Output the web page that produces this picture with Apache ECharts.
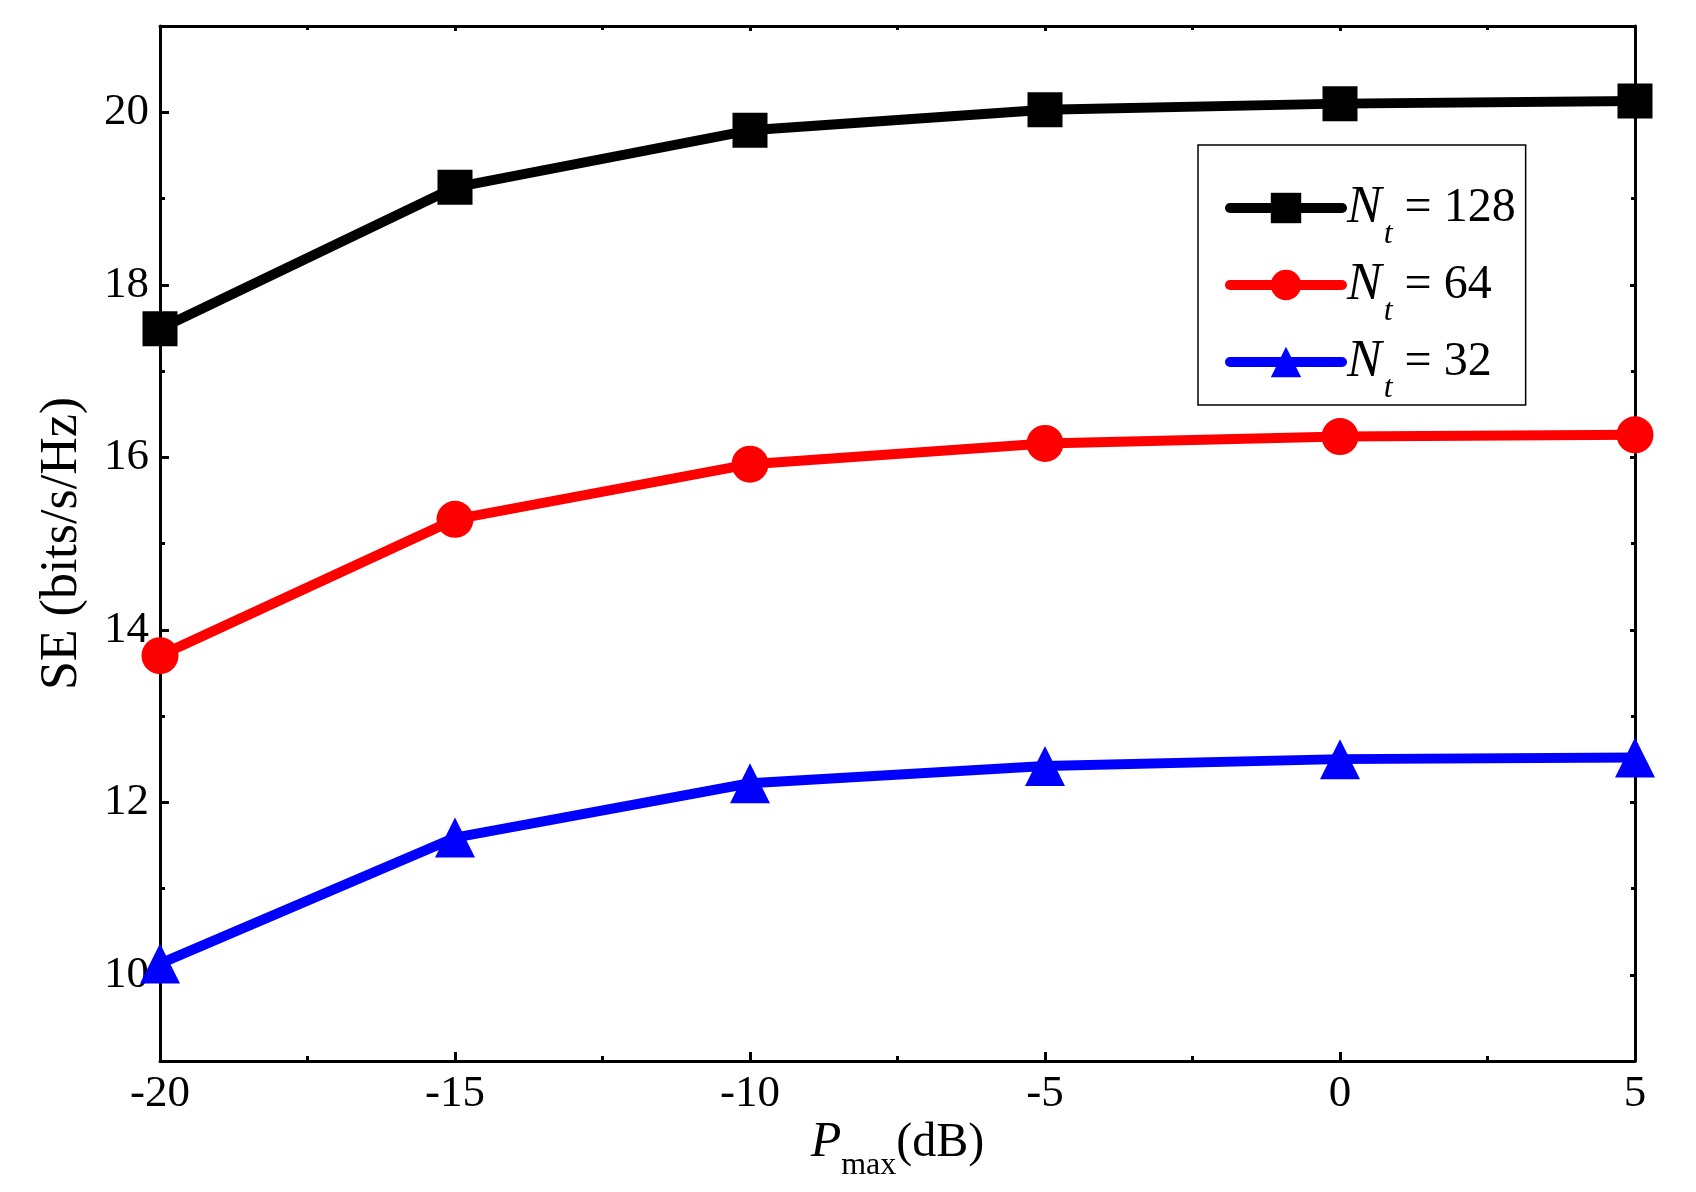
<!DOCTYPE html>
<html>
<head>
<meta charset="utf-8">
<script src="https://cdn.jsdelivr.net/npm/echarts@6/dist/echarts.min.js"></script>
<style>html,body{margin:0;padding:0;background:#fff}#c{width:1696px;height:1192px}</style>
</head>
<body>
<div id="c"></div>
<script>
const xValues = [-20, -15, -10, -5, 0, 5];
const se128 = [17.49, 19.13, 19.79, 20.03, 20.10, 20.13];
const se64 = [13.70, 15.28, 15.92, 16.16, 16.24, 16.26];
const se32 = [10.13, 11.59, 12.22, 12.42, 12.50, 12.52];
const seriesNt = ['128', '64', '32'];
const yMajorTicks = [10, 12, 14, 16, 18, 20];
const yMinorTicks = [9, 11, 13, 15, 17, 19, 21];
const xMajorTicks = [-20, -15, -10, -5, 0, 5];
const xMinorTicks = [-17.5, -12.5, -7.5, -2.5, 2.5];

const FONT = '"Liberation Serif", "DejaVu Serif", serif';
const colors = ['#000000', '#ff0000', '#0000ff'];
const symbols = ['rect', 'circle', 'triangle'];
const symSizes = [35, 37, 40];
const dataSets = [se128, se64, se32];

function pairs(arr) { return xValues.map((x, i) => [x, arr[i]]); }

function lineCfg(show) {
  return show ? { show: true, onZero: false, lineStyle: { color: '#000', width: 3 } } : { show: false, onZero: false };
}

function xAx(pos, ticks, len, showLine, showLabel) {
  return {
    type: 'value', position: pos, min: -20, max: 5, interval: 5,
    axisLine: lineCfg(showLine),
    axisTick: { show: true, inside: true, length: len, customValues: ticks, lineStyle: { color: '#000', width: 3 } },
    axisLabel: showLabel ? { show: true, customValues: xMajorTicks, margin: 11, fontFamily: FONT, fontSize: 45, color: '#000' } : { show: false },
    splitLine: { show: false }
  };
}
function yAx(pos, ticks, len, showLine, showLabel) {
  return {
    type: 'value', position: pos, min: 9, max: 21, interval: 1,
    axisLine: lineCfg(showLine),
    axisTick: { show: true, inside: true, length: len, customValues: ticks, lineStyle: { color: '#000', width: 3 } },
    axisLabel: showLabel ? { show: true, customValues: yMajorTicks, margin: 11, fontFamily: FONT, fontSize: 45, color: '#000' } : { show: false },
    splitLine: { show: false }
  };
}

const xAxes = [
  Object.assign(xAx('bottom', xMajorTicks, 9, true, true), {
    name: '{i|P}{s|max}{n|(dB)}', nameLocation: 'middle', nameGap: 54, nameMoveOverlap: false,
    nameTextStyle: { fontFamily: FONT, fontSize: 48, color: '#000', rich: {
      i: { fontFamily: FONT, fontSize: 50, fontStyle: 'italic', color: '#000', lineHeight: 56 },
      s: { fontFamily: FONT, fontSize: 32, color: '#000', lineHeight: 34, padding: [46, 0, 0, 0] },
      n: { fontFamily: FONT, fontSize: 48, color: '#000', lineHeight: 56 }
    } }
  }),
  xAx('bottom', xMinorTicks, 5, false, false),
  xAx('top', xMajorTicks, 5, true, false),
  xAx('top', xMinorTicks, 4, false, false)
];
const yAxes = [
  Object.assign(yAx('left', yMajorTicks, 9, true, true), {
    name: 'SE (bits/s/Hz)', nameLocation: 'middle', nameGap: 72, nameRotate: 90,
    nameTextStyle: { fontFamily: FONT, fontSize: 52, color: '#000' }
  }),
  yAx('left', yMinorTicks, 5, false, false),
  yAx('right', yMajorTicks, 5, true, false),
  yAx('right', yMinorTicks, 4, false, false)
];

const series = seriesNt.map((n, k) => ({
  name: n, type: 'line', xAxisIndex: 0, yAxisIndex: 0,
  data: pairs(dataSets[k]),
  symbol: symbols[k], symbolSize: symSizes[k], showSymbol: true,
  lineStyle: { color: colors[k], width: 10 },
  itemStyle: { color: colors[k] },
  z: 10 - k, clip: true, animation: false
}));

const chart = echarts.init(document.getElementById('c'), null, { renderer: 'canvas' });
chart.setOption({
  backgroundColor: '#fff',
  animation: false,
  grid: { left: 160, right: 61, top: 26, bottom: 131, containLabel: false, outerBoundsMode: 'none' },
  xAxis: xAxes,
  yAxis: yAxes,
  legend: {
    orient: 'vertical', left: 1198, top: 145,
    data: seriesNt,
    borderColor: '#000', borderWidth: 1.5, padding: [20, 10, 0, 27],
    itemWidth: 112, itemHeight: 38, itemGap: -9,
    lineStyle: { width: 10, cap: 'round' },
    formatter: function (n) { return '{i|N}{s|t}{r| = ' + n + '}'; },
    textStyle: { fontFamily: FONT, fontSize: 48, color: '#000', rich: {
      i: { fontFamily: FONT, fontSize: 52, fontStyle: 'italic', color: '#000', lineHeight: 40 },
      s: { fontFamily: FONT, fontSize: 32, fontStyle: 'italic', color: '#000', lineHeight: 32, padding: [54, 0, 0, 2] },
      r: { fontFamily: FONT, fontSize: 48, color: '#000', lineHeight: 40 }
    } }
  },
  series: series
});
</script>
</body>
</html>
